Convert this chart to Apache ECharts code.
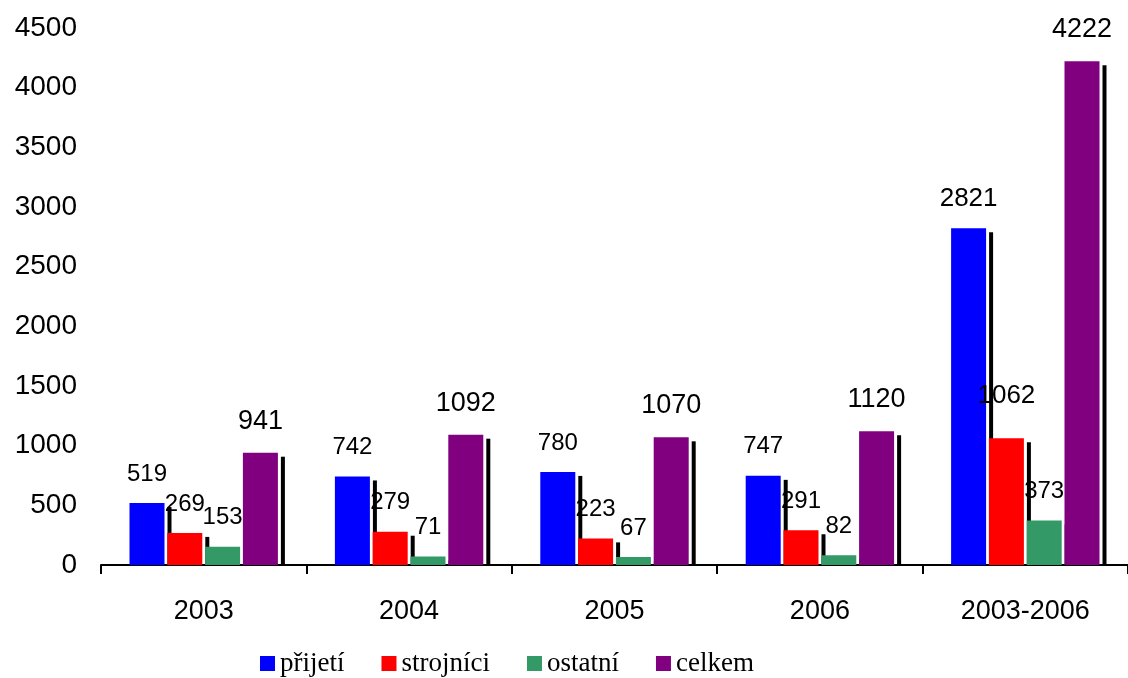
<!DOCTYPE html>
<html>
<head>
<meta charset="utf-8">
<script src="https://cdn.jsdelivr.net/npm/echarts@6/dist/echarts.min.js"></script>
<style>
html,body{margin:0;padding:0;background:#fff;}
#chart{width:1128px;height:678px;}
</style>
</head>
<body>
<div id="chart"></div>
<script>
const categories = ['2003', '2004', '2005', '2006', '2003-2006'];
const seriesNames = ['přijetí', 'strojníci', 'ostatní', 'celkem'];
const prijeti = [519, 742, 780, 747, 2821];
const strojnici = [269, 279, 223, 291, 1062];
const ostatni = [153, 71, 67, 82, 373];
const celkem = [941, 1092, 1070, 1120, 4222];
const yTicks = { min: 0, max: 4500, interval: 500 };

const colors = ['#0000FF', '#FF0000', '#339966', '#800080'];
const labelSizes = [24, 24, 24, 27];
const allValues = [prijeti, strojnici, ostatni, celkem];

const BAR_W = 35;
const GAP_PCT = 0.08;
const GAP = BAR_W * GAP_PCT;
const N = allValues.length;
const SANS = 'Liberation Sans, Arial, sans-serif';
const TOTAL_CAT = categories.length - 1;

const chart = echarts.init(document.getElementById('chart'), null, { renderer: 'canvas' });

const barSeries = allValues.map((vals, i) => ({
  name: seriesNames[i],
  type: 'bar',
  data: vals.map((v, c) => {
    if (c === TOTAL_CAT && (i === 0 || i === 1)) {
      return { value: v, label: { fontSize: 26, distance: i === 1 ? 29 : 17 } };
    }
    return v;
  }),
  barWidth: BAR_W,
  barGap: (GAP_PCT * 100) + '%',
  z: 3,
  itemStyle: { color: colors[i] },
  label: {
    show: true,
    position: 'top',
    distance: i === 3 ? 18 : 17,
    color: '#000',
    fontFamily: SANS,
    fontSize: labelSizes[i]
  }
}));

const shadowData = [];
allValues.forEach((vals, s) => vals.forEach((v, c) => shadowData.push([c, s, v])));

const shadowSeries = {
  type: 'custom',
  z: 1,
  silent: true,
  encode: { x: 0, y: 2 },
  data: shadowData,
  renderItem: function (params, api) {
    const c = api.value(0), s = api.value(1), v = api.value(2);
    const top = api.coord([c, v]);
    const base = api.coord([c, 0]);
    const groupW = N * BAR_W + (N - 1) * GAP;
    const left = top[0] - groupW / 2 + s * (BAR_W + GAP);
    return {
      type: 'rect',
      shape: { x: left + BAR_W + 3, y: top[1] + 4, width: 4, height: base[1] - top[1] - 4 },
      style: { fill: '#000' }
    };
  }
};

chart.setOption({
  animation: false,
  backgroundColor: '#fff',
  grid: { left: 101, right: -3, top: 28, bottom: 113, containLabel: false },
  legend: {
    data: seriesNames,
    left: 255,
    top: 645,
    icon: 'rect',
    itemWidth: 15,
    itemHeight: 15,
    itemGap: 37,
    textStyle: { fontFamily: 'Liberation Serif, Times New Roman, serif', fontSize: 27, color: '#000' }
  },
  xAxis: {
    type: 'category',
    data: categories,
    boundaryGap: true,
    axisLine: { show: true, lineStyle: { color: '#000', width: 2 } },
    axisTick: { show: true, alignWithLabel: false, length: 9, lineStyle: { color: '#000', width: 2 } },
    axisLabel: { color: '#000', fontFamily: SANS, fontSize: 27, margin: 33 },
    splitLine: { show: false }
  },
  yAxis: {
    type: 'value',
    min: yTicks.min,
    max: yTicks.max,
    interval: yTicks.interval,
    axisLine: { show: false },
    axisTick: { show: false },
    splitLine: { show: false },
    axisLabel: {
      color: '#000', fontFamily: SANS, fontSize: 28, margin: 24,
      padding: [3, 0, 0, 0],
      formatter: function (v) { return String(v); }
    }
  },
  series: [shadowSeries].concat(barSeries)
});
</script>
</body>
</html>
